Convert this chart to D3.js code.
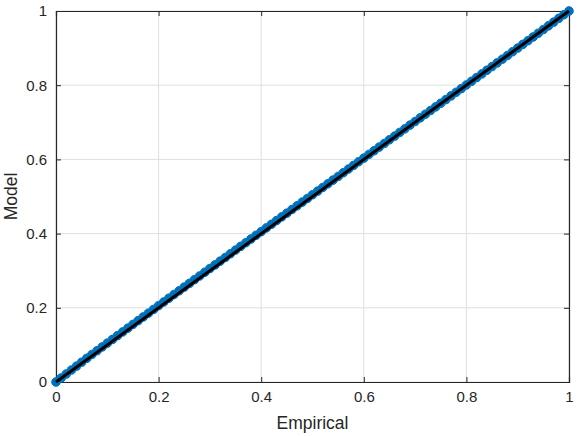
<!DOCTYPE html>
<html>
<head>
<meta charset="utf-8">
<script src="https://cdn.jsdelivr.net/npm/d3@7"></script>
<style>
  body { margin: 0; background: #fff; }
  text { font-family: "Liberation Sans", Arial, sans-serif; fill: #262626; }
</style>
</head>
<body>
<svg id="chart" width="581" height="436"></svg>
<script>
// empirical vs. model probabilities
var empirical = [0, 0.01, 0.02, 0.03, 0.04, 0.05, 0.06, 0.07, 0.08, 0.09,
    0.10, 0.11, 0.12, 0.13, 0.14, 0.15, 0.16, 0.17, 0.18, 0.19,
    0.20, 0.21, 0.22, 0.23, 0.24, 0.25, 0.26, 0.27, 0.28, 0.29,
    0.30, 0.31, 0.32, 0.33, 0.34, 0.35, 0.36, 0.37, 0.38, 0.39,
    0.40, 0.41, 0.42, 0.43, 0.44, 0.45, 0.46, 0.47, 0.48, 0.49,
    0.50, 0.51, 0.52, 0.53, 0.54, 0.55, 0.56, 0.57, 0.58, 0.59,
    0.60, 0.61, 0.62, 0.63, 0.64, 0.65, 0.66, 0.67, 0.68, 0.69,
    0.70, 0.71, 0.72, 0.73, 0.74, 0.75, 0.76, 0.77, 0.78, 0.79,
    0.80, 0.81, 0.82, 0.83, 0.84, 0.85, 0.86, 0.87, 0.88, 0.89,
    0.90, 0.91, 0.92, 0.93, 0.94, 0.95, 0.96, 0.97, 0.98, 0.99, 1.00];
var model = [0, 0.0108, 0.0215, 0.0322, 0.0428, 0.0534, 0.0638, 0.0741, 0.0843, 0.0945,
    0.1047, 0.1148, 0.1249, 0.1350, 0.1451, 0.1552, 0.1653, 0.1754, 0.1855, 0.1956,
    0.2057, 0.2157, 0.2258, 0.2358, 0.2458, 0.2558, 0.2658, 0.2758, 0.2858, 0.2958,
    0.3058, 0.3157, 0.3257, 0.3357, 0.3456, 0.3556, 0.3655, 0.3755, 0.3854, 0.3954,
    0.4053, 0.4153, 0.4252, 0.4351, 0.4451, 0.4550, 0.4649, 0.4749, 0.4848, 0.4947,
    0.5046, 0.5145, 0.5244, 0.5343, 0.5442, 0.5541, 0.5640, 0.5739, 0.5838, 0.5937,
    0.6035, 0.6134, 0.6233, 0.6331, 0.6430, 0.6529, 0.6627, 0.6726, 0.6824, 0.6923,
    0.7021, 0.7120, 0.7218, 0.7317, 0.7415, 0.7514, 0.7612, 0.7711, 0.7809, 0.7908,
    0.8007, 0.8106, 0.8205, 0.8304, 0.8403, 0.8502, 0.8602, 0.8701, 0.8801, 0.8901,
    0.9001, 0.9100, 0.9200, 0.9300, 0.9400, 0.9500, 0.9600, 0.9700, 0.9800, 0.9900, 1.0000];
var refLine = [0, 1];
var tickValues = [0, 0.2, 0.4, 0.6, 0.8, 1];

var svg = d3.select("#chart");
var plotLeft = 56, plotRight = 569, plotTop = 11, plotBottom = 382;

var xScale = d3.scaleLinear().domain([0, 1]).range([plotLeft, plotRight]);
var yScale = d3.scaleLinear().domain([0, 1]).range([plotBottom, plotTop]);
var fmt = function (d) { return d3.format("~g")(d); };

// grid
svg.append("g").selectAll("line")
    .data(tickValues)
    .enter()
    .append("line")
    .attr("x1", function (d) { return xScale(d); })
    .attr("x2", function (d) { return xScale(d); })
    .attr("y1", plotTop)
    .attr("y2", plotBottom)
    .attr("stroke", "#dfdfdf")
    .attr("stroke-width", 1);
svg.append("g").selectAll("line")
    .data(tickValues)
    .enter()
    .append("line")
    .attr("x1", plotLeft)
    .attr("x2", plotRight)
    .attr("y1", function (d) { return yScale(d); })
    .attr("y2", function (d) { return yScale(d); })
    .attr("stroke", "#dfdfdf")
    .attr("stroke-width", 1);

// axes (ticks inward, box)
var xAxis = d3.axisBottom(xScale).tickValues(tickValues).tickSize(-5).tickPadding(9).tickFormat(fmt);
var yAxis = d3.axisLeft(yScale).tickValues(tickValues).tickSize(-5).tickPadding(9).tickFormat(fmt);
var xTop = d3.axisTop(xScale).tickValues(tickValues).tickSize(-5).tickFormat("");
var yRight = d3.axisRight(yScale).tickValues(tickValues).tickSize(-5).tickFormat("");

function styleAxis(g) {
    g.attr("font-size", 15).attr("font-family", "'Liberation Sans', Arial, sans-serif");
    g.selectAll("path").attr("stroke", "#262626").attr("stroke-width", 1.2);
    g.selectAll("line").attr("stroke", "#262626").attr("stroke-width", 1);
    g.selectAll("text").attr("fill", "#262626");
}
svg.append("g").attr("transform", "translate(0," + plotBottom + ")").call(xAxis).call(styleAxis);
svg.append("g").attr("transform", "translate(" + plotLeft + ",0)").call(yAxis).call(styleAxis);
svg.append("g").attr("transform", "translate(0," + plotTop + ")").call(xTop).call(styleAxis);
svg.append("g").attr("transform", "translate(" + plotRight + ",0)").call(yRight).call(styleAxis);

// markers
svg.append("g").selectAll("circle")
    .data(empirical)
    .enter()
    .append("circle")
    .attr("cx", function (d) { return xScale(d); })
    .attr("cy", function (d, i) { return yScale(model[i]); })
    .attr("r", 4.3)
    .attr("fill", "#0072bd")
    .attr("stroke", "#0072bd")
    .attr("stroke-width", 1);

// reference line
svg.append("path")
    .datum(refLine)
    .attr("d", d3.line().x(function (d) { return xScale(d); }).y(function (d) { return yScale(d); }))
    .attr("stroke", "#000")
    .attr("stroke-width", 3)
    .attr("fill", "none");

// labels
svg.append("text")
    .attr("x", (plotLeft + plotRight) / 2)
    .attr("y", 429)
    .attr("text-anchor", "middle")
    .style("font-size", "17.5px")
    .text("Empirical");
svg.append("text")
    .attr("transform", "translate(17," + ((plotTop + plotBottom) / 2) + ") rotate(-90)")
    .attr("text-anchor", "middle")
    .style("font-size", "17.5px")
    .text("Model");
</script>
</body>
</html>
